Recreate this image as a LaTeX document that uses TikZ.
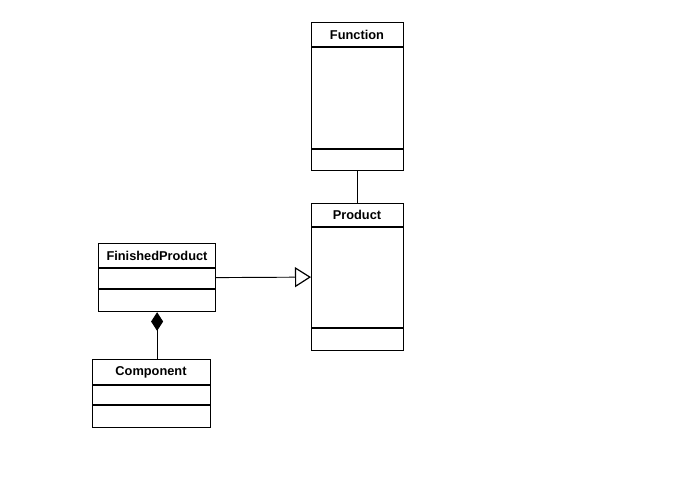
\documentclass[tikz,border=0pt]{standalone}
\usepackage{fontspec}
\setmainfont{Liberation Sans}
\usetikzlibrary{arrows.meta}
\begin{document}
\begin{tikzpicture}[x=0.75pt,y=-0.75pt,
  classbox/.style={draw,line width=0.9pt,anchor=north west,inner sep=0pt},
  title/.style={font=\fontsize{9.6}{11}\selectfont\bfseries,inner sep=0pt},
  sep/.style={line width=0.9pt},
  conn/.style={line width=0.7pt}]
\useasboundingbox (0,0) rectangle (691,495);
% Function
\node[classbox,minimum width=69pt,minimum height=111pt] (fn) at (311,22) {};
\node[title] (fnt) at (357,34.5) {Function};
\draw[sep] (311,47) -- (403,47);
\draw[sep] (311,149) -- (403,149);
% Product
\node[classbox,minimum width=69pt,minimum height=110.25pt] (pr) at (311,203) {};
\node[title] (prt) at (357,215) {Product};
\draw[sep] (311,227) -- (403,227);
\draw[sep] (311,328) -- (403,328);
% FinishedProduct
\node[classbox,minimum width=87.75pt,minimum height=51pt] (fp) at (98,243) {};
\node[title] (fpt) at (157,255.5) {FinishedProduct};
\draw[sep] (98,268) -- (215,268);
\draw[sep] (98,289) -- (215,289);
% Component
\node[classbox,minimum width=88.5pt,minimum height=51pt] (cp) at (92,359) {};
\node[title] (cpt) at (151,372) {Component};
\draw[sep] (92,385) -- (210,385);
\draw[sep] (92,405) -- (210,405);
% connectors
\draw[conn] (fn.south) -- (pr.north);
\draw[conn,-{Triangle[open,length=12pt,width=15pt,line width=0.9pt]}] (fp.east) -- (pr.west);
\draw[conn,{Diamond[length=14pt,width=9pt]}-] (fp.south) -- (fp.south |- cp.north);
\end{tikzpicture}
\end{document}
